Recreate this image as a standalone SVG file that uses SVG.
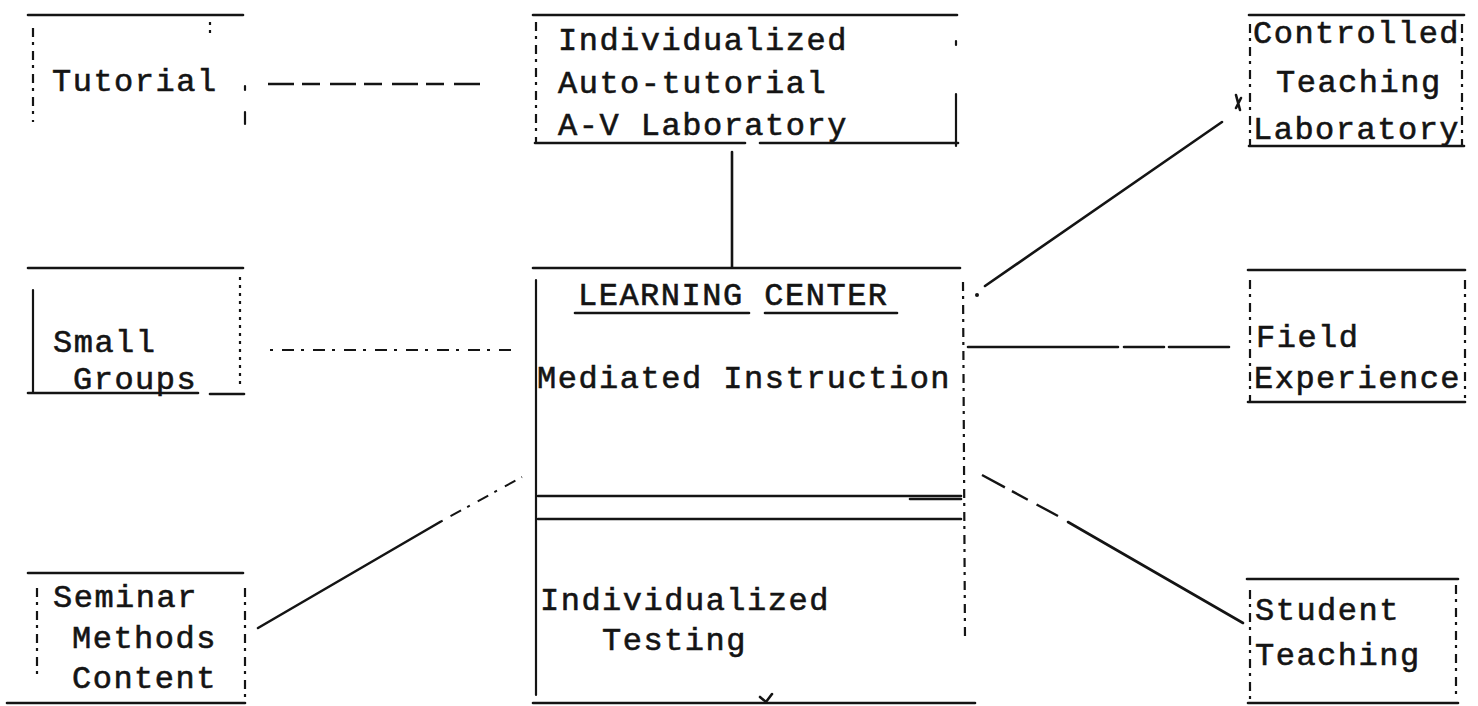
<svg xmlns="http://www.w3.org/2000/svg" width="1478" height="706" viewBox="0 0 1478 706">
  <style>
    .bg { fill: #ffffff; }
    .t { font-family: "Liberation Mono", "Courier New", monospace; font-size: 32px; letter-spacing: 1.5px; fill: #141414; stroke: #141414; stroke-width: 0.6px; }
    .h { stroke: #141414; stroke-width: 2.6; fill: none; stroke-linecap: round; }
    .v { stroke: #141414; stroke-width: 2.2; fill: none; stroke-linecap: round; }
    .vd { stroke: #141414; stroke-width: 2.2; fill: none; stroke-dasharray: 9 5 3 6; }
    .vdot { stroke: #141414; stroke-width: 2.2; fill: none; stroke-dasharray: 3 5; }
    .c { stroke: #141414; stroke-width: 2.6; fill: none; stroke-linecap: round; }
    .cd { stroke: #141414; stroke-width: 2.4; fill: none; stroke-dasharray: 26 8 18 10; }
    .cdot { stroke: #141414; stroke-width: 2; fill: none; stroke-dasharray: 3 9 12 7; }
  </style>

  <rect class="bg" x="0" y="0" width="1478" height="706"/>

  <!-- connectors -->
  <g id="connectors">
    <line class="cd" x1="268" y1="84" x2="486" y2="84"/>
    <line class="c" x1="732" y1="152" x2="732" y2="267"/>
    <line class="cdot" x1="270" y1="350" x2="512" y2="350"/>
    <path class="c" d="M258 628 L440 522"/>
    <path class="cdot" d="M440 522 L522 477"/>
    <path class="c" d="M985 286 L1222 122"/>
    <circle cx="977" cy="295" r="2" fill="#141414"/>
    <path class="c" d="M1236 95 L1240 110 M1241 98 L1236 108"/>
    <line class="c" x1="968" y1="347" x2="1248" y2="347" stroke-dasharray="150 6 40 5 60"/>
    <path class="cd" d="M982 475 L1058 516"/>
    <path class="c" d="M1068 522 L1243 623"/>
  </g>

  <!-- Tutorial -->
  <g id="tutorial">
    <line class="h" x1="28" y1="15" x2="243" y2="15"/>
    <line class="vd" x1="33" y1="28" x2="33" y2="122"/>
    <line class="vdot" x1="210" y1="22" x2="210" y2="36"/>
    <line class="v" x1="245" y1="86" x2="245" y2="90"/>
    <line class="v" x1="245" y1="112" x2="245" y2="124"/>
    <text class="t" x="52" y="91">Tutorial</text>
  </g>

  <!-- Individualized Auto-tutorial A-V Laboratory -->
  <g id="av-lab">
    <line class="h" x1="533" y1="15" x2="957" y2="15"/>
    <line class="vd" x1="536" y1="22" x2="536" y2="143"/>
    <line class="v" x1="956" y1="94" x2="956" y2="146"/>
    <line class="v" x1="956" y1="41" x2="956" y2="45"/>
    <line class="h" x1="535" y1="143" x2="745" y2="143"/>
    <line class="h" x1="760" y1="143" x2="958" y2="143"/>
    <text class="t" x="558" y="50">Individualized</text>
    <text class="t" x="558" y="93">Auto-tutorial</text>
    <text class="t" x="558" y="135">A-V Laboratory</text>
  </g>

  <!-- Learning Center -->
  <g id="learning-center">
    <line class="h" x1="533" y1="268" x2="960" y2="268"/>
    <line class="v" x1="536" y1="280" x2="536" y2="695"/>
    <line class="vd" x1="963" y1="282" x2="965" y2="640"/>
    <line class="h" x1="533" y1="703" x2="975" y2="703"/>
    <path class="c" d="M760 697 L766 702 L772 694" stroke-width="1.8"/>
    <text class="t" x="578" y="305">LEARNING CENTER</text>
    <line class="h" x1="575" y1="313" x2="749" y2="313" stroke-width="2"/>
    <line class="h" x1="765" y1="313" x2="897" y2="313" stroke-width="2"/>
    <text class="t" x="537" y="388">Mediated Instruction</text>
    <line class="h" x1="538" y1="496" x2="961" y2="496"/>
    <line class="h" x1="910" y1="499" x2="961" y2="499" stroke-width="1.6"/>
    <line class="h" x1="538" y1="519" x2="961" y2="519"/>
    <text class="t" x="540" y="610">Individualized</text>
    <text class="t" x="602" y="650">Testing</text>
  </g>

  <!-- Controlled Teaching Laboratory -->
  <g id="controlled-lab">
    <line class="h" x1="1249" y1="15" x2="1464" y2="15"/>
    <line class="vd" x1="1250" y1="24" x2="1250" y2="145"/>
    <line class="vd" x1="1462" y1="24" x2="1462" y2="145"/>
    <line class="h" x1="1249" y1="146" x2="1464" y2="146"/>
    <text class="t" x="1253" y="43">Controlled</text>
    <text class="t" x="1276" y="92">Teaching</text>
    <text class="t" x="1253" y="139">Laboratory</text>
  </g>

  <!-- Field Experience -->
  <g id="field-experience">
    <line class="h" x1="1248" y1="270" x2="1465" y2="270"/>
    <line class="vd" x1="1250" y1="280" x2="1250" y2="402"/>
    <line class="vd" x1="1465" y1="280" x2="1465" y2="398"/>
    <line class="h" x1="1248" y1="402" x2="1465" y2="402"/>
    <text class="t" x="1256" y="347">Field</text>
    <text class="t" x="1254" y="388">Experience</text>
  </g>

  <!-- Small Groups -->
  <g id="small-groups">
    <line class="h" x1="28" y1="268" x2="243" y2="268"/>
    <line class="v" x1="33" y1="290" x2="33" y2="393"/>
    <line class="vdot" x1="240" y1="277" x2="240" y2="384"/>
    <line class="h" x1="28" y1="393" x2="198" y2="393"/>
    <line class="h" x1="210" y1="394" x2="244" y2="394"/>
    <text class="t" x="53" y="352">Small</text>
    <text class="t" x="73" y="389">Groups</text>
  </g>

  <!-- Seminar Methods Content -->
  <g id="seminar">
    <line class="h" x1="28" y1="573" x2="243" y2="573"/>
    <line class="vd" x1="37" y1="588" x2="37" y2="675"/>
    <line class="vd" x1="245" y1="588" x2="245" y2="700"/>
    <line class="h" x1="7" y1="703" x2="245" y2="703"/>
    <text class="t" x="53" y="607">Seminar</text>
    <text class="t" x="72" y="648">Methods</text>
    <text class="t" x="72" y="688">Content</text>
  </g>

  <!-- Student Teaching -->
  <g id="student-teaching">
    <line class="h" x1="1247" y1="579" x2="1458" y2="579"/>
    <line class="vd" x1="1250" y1="590" x2="1250" y2="703"/>
    <line class="vd" x1="1456" y1="585" x2="1456" y2="700"/>
    <line class="h" x1="1248" y1="703" x2="1458" y2="703"/>
    <text class="t" x="1255" y="620">Student</text>
    <text class="t" x="1255" y="665">Teaching</text>
  </g>
</svg>
